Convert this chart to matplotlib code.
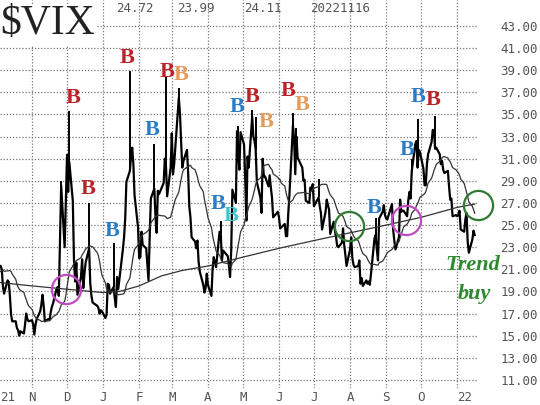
import matplotlib
matplotlib.use("Agg")
import matplotlib.pyplot as plt
import pandas as pd

# exchange holidays inside the chart window
holidays = ["2021-11-25", "2021-12-24", "2022-01-17", "2022-02-21", "2022-04-15",
            "2022-05-30", "2022-06-20", "2022-07-04", "2022-09-05"]

# daily closes of $VIX, month by month (Oct 5 2021 .. Nov 16 2022)
warmup = [18.2, 19.1, 18.8, 20.95, 19.4, 19.5, 18.2, 18.7, 20.8, 25.7,
          24.4, 20.9, 18.6, 17.75, 18.8, 23.25, 22.6, 23.1, 21.15, 23.0]
oct21 = [21.3, 21.0, 19.5, 18.8, 20.0, 19.85, 18.6, 16.9, 16.3, 16.3, 15.7, 15.5,
         15.0, 15.4, 15.2, 16.0, 17.0, 16.5, 16.3]
nov21 = [16.4, 16.0, 15.1, 16.0, 16.5, 17.2, 17.8, 18.7, 17.7, 16.3, 16.5, 16.4,
         17.1, 17.6, 17.9, 19.2, 19.4, 18.6, 28.6, 23.0, 27.2]
dec21 = [31.1, 28.0, 30.7, 27.2, 21.9, 19.9, 21.6, 18.7, 20.3, 21.9, 19.3, 20.6,
         21.6, 22.9, 19.7, 18.6, 18.0, 17.7, 17.5, 17.0, 17.3, 17.2]
jan22 = [16.6, 16.9, 19.7, 19.6, 18.8, 19.4, 18.4, 17.6, 20.3, 19.2, 22.8, 23.9,
         25.6, 28.9, 29.9, 31.2, 32.0, 30.5, 27.7, 24.8]
feb22 = [22.0, 22.1, 24.4, 23.2, 22.9, 21.4, 20.0, 23.9, 27.4, 28.3, 25.7, 24.3,
         28.1, 27.8, 28.8, 31.0, 30.3, 27.6, 30.2]
mar22 = [33.3, 29.6, 30.5, 32.0, 36.5, 35.1, 32.5, 30.2, 30.8, 31.8, 29.8, 26.7,
         25.7, 23.9, 23.5, 22.9, 23.6, 21.7, 20.8, 19.6, 18.9, 19.3, 20.6]
apr22 = [19.6, 18.6, 21.0, 22.1, 21.6, 21.2, 24.4, 24.3, 21.8, 22.7, 22.2, 21.4,
         20.3, 22.7, 28.2, 27.0, 33.5, 31.6, 30.0, 33.4]
may22 = [32.3, 29.3, 25.4, 31.2, 30.2, 34.8, 33.0, 32.6, 31.8, 28.9, 27.5, 26.1,
         31.0, 29.4, 29.4, 28.5, 29.5, 28.4, 27.5, 25.7, 26.2]
jun22 = [25.7, 24.7, 24.8, 25.1, 24.0, 24.0, 26.1, 27.8, 34.0, 32.7, 29.6, 33.0,
         31.1, 30.2, 29.0, 29.1, 27.2, 27.0, 28.4, 28.2, 28.7]
jul22 = [26.7, 27.5, 26.7, 26.1, 24.6, 26.2, 27.3, 26.8, 26.4, 24.2, 25.3, 24.5,
         23.9, 23.1, 23.0, 23.4, 24.7, 23.2, 22.3, 21.3]
aug22 = [22.8, 23.9, 22.0, 21.4, 21.2, 21.3, 21.8, 19.7, 20.2, 19.5, 20.0, 19.7,
         19.9, 19.6, 20.6, 23.8, 24.1, 22.8, 21.8, 25.6, 26.2, 26.8, 25.9]
sep22 = [25.6, 25.5, 26.9, 24.6, 23.6, 22.8, 23.9, 27.3, 26.2, 26.3, 26.3, 25.8,
         27.2, 28.0, 27.4, 29.9, 32.3, 32.6, 30.2, 31.8, 31.6]
oct22 = [30.1, 28.6, 28.6, 30.5, 31.4, 32.5, 33.6, 33.6, 31.9, 32.0, 31.4, 30.5,
         30.8, 30.0, 29.7, 29.9, 28.5, 27.3, 27.4, 25.8, 25.9]
nov22 = [25.8, 25.9, 26.3, 24.6, 24.4, 25.5, 26.1, 23.5, 22.5, 23.7, 24.5, 24.1]

# intraday highs that stick out above the close
hi_dates = ["2021-11-26", "2021-12-01", "2021-12-03", "2021-12-20", "2022-01-10",
            "2022-01-24", "2022-02-14", "2022-02-24", "2022-03-07", "2022-04-12",
            "2022-04-27", "2022-05-09", "2022-05-12", "2022-06-13", "2022-06-16",
            "2022-07-05", "2022-08-23", "2022-09-23", "2022-09-28", "2022-10-13"]
hi_vals = [29.0, 31.4, 35.3, 27.0, 23.4, 38.9, 32.3, 38.4, 37.4, 25.4,
           34.0, 35.4, 34.8, 35.1, 33.8, 29.2, 25.6, 31.0, 34.6, 34.9]

# 200-day moving average
ma200_dates = ["2021-10-05", "2021-11-01", "2021-12-01", "2022-01-01", "2022-01-15",
               "2022-02-01", "2022-02-20", "2022-03-10", "2022-04-01", "2022-05-01",
               "2022-06-01", "2022-07-01", "2022-08-01", "2022-09-01", "2022-10-01",
               "2022-11-01", "2022-11-16"]
ma200_vals = [19.8, 19.5, 19.2, 18.9, 19.0, 19.5, 20.4, 20.9, 21.3, 22.1,
              22.9, 23.6, 24.3, 25.0, 25.7, 26.6, 26.9]

# buy signals ("B") and their colours
b_dates = ["2021-12-06", "2021-12-19", "2022-01-22", "2022-01-09", "2022-02-12",
           "2022-02-25", "2022-03-09", "2022-04-26", "2022-05-09", "2022-05-21",
           "2022-04-10", "2022-04-21", "2022-06-09", "2022-06-21", "2022-08-22",
           "2022-09-19", "2022-09-28", "2022-10-11"]
b_levels = [36.5, 28.3, 40.1, 24.5, 33.6, 38.8, 38.6, 35.7, 36.6, 34.3,
            26.9, 25.8, 37.1, 35.9, 26.5, 31.8, 36.6, 36.3]
b_colors = ["red", "red", "red", "blue", "blue", "red", "orange", "blue", "red", "orange",
            "blue", "cyan", "red", "orange", "blue", "blue", "blue", "red"]
palette = {"red": "#bb2228", "blue": "#2a7cc6", "orange": "#e49a5c", "cyan": "#3ec6cc"}

# crossover circles
circ_dates = ["2021-11-30", "2022-07-31", "2022-09-18", "2022-11-19"]
circ_levels = [19.2, 24.9, 25.5, 26.8]
circ_colors = ["#c04ac4", "#2e7a32", "#c04ac4", "#2e7a32"]

header = ["24.72", "23.99", "24.11", "20221116"]
header_x = [135, 196, 263, 340]

month_ticks = pd.date_range("2021-11-01", "2022-11-01", freq="MS")
month_labels = ["N", "D", "J", "F", "M", "A", "M", "J", "J", "A", "S", "O", "22"]

vix = oct21 + nov21 + dec21 + jan22 + feb22 + mar22 + apr22 + may22 + jun22 + \
    jul22 + aug22 + sep22 + oct22 + nov22
days = pd.bdate_range("2021-10-05", "2022-11-16", freq="C", holidays=holidays)
close = pd.Series(vix, index=days)
ma20 = pd.Series(warmup + vix).rolling(20).mean().iloc[len(warmup):]
ma20.index = days

fig = plt.figure(figsize=(5.4, 4.05), dpi=100)
ax = fig.add_axes([0, 1 - 388 / 405, 477 / 540, 388 / 405])
ax.set_xlim(pd.Timestamp("2021-10-04 12:00"), pd.Timestamp("2022-11-18"))
ax.set_ylim(10.27, 45.35)
for s in ax.spines.values():
    s.set_visible(False)

ax.set_yticks(range(11, 44, 2))
ax.set_yticklabels([f"{v:.2f}" for v in range(11, 44, 2)])
ax.yaxis.tick_right()
ax.set_xticks(month_ticks)
ax.set_xticklabels(month_labels)
ax.xaxis.get_ticklabels()[-1].set_horizontalalignment("left")
ax.tick_params(length=0, labelsize=9, labelcolor="#555555")
ax.tick_params(axis="y", pad=17)
ax.tick_params(axis="x", pad=2)
for lab in ax.get_xticklabels() + ax.get_yticklabels():
    lab.set_family("DejaVu Sans Mono")
ax.grid(True, linestyle=(0, (1, 1.5)), color="#777777", lw=0.9)
ax.text(0.0, -0.008, "21", transform=ax.transAxes, ha="left", va="top",
        fontsize=9, color="#555555", family="DejaVu Sans Mono")

ax.plot(close.index, close.values, color="black", lw=1.6, zorder=3)
hd = pd.to_datetime(hi_dates)
ax.vlines(hd, close.reindex(hd).values, hi_vals, color="black", lw=1.4, zorder=3)
ax.plot(ma20.index, ma20.values, color="#333333", lw=0.9, zorder=3)
ax.plot(pd.to_datetime(ma200_dates), ma200_vals, color="#333333", lw=0.9, zorder=3)

for d, v, c in zip(b_dates, b_levels, b_colors):
    ax.text(pd.Timestamp(d), v, "B", color=palette[c], fontsize=16, fontweight="bold",
            family="Liberation Serif", ha="center", va="center", zorder=4)

for d, v, c in zip(circ_dates, circ_levels, circ_colors):
    ax.plot([pd.Timestamp(d)], [v], marker="o", markersize=21, markerfacecolor="none",
            markeredgecolor=c, markeredgewidth=1.6, clip_on=False, zorder=5)

ax.text(pd.Timestamp("2022-11-14"), 21.4, "Trend", color="#2e8a2e", fontsize=16,
        fontweight="bold", fontstyle="italic", family="Liberation Serif",
        ha="center", va="center", zorder=6, clip_on=False)
ax.text(pd.Timestamp("2022-11-16"), 18.8, "buy", color="#2e8a2e", fontsize=16,
        fontweight="bold", fontstyle="italic", family="Liberation Serif",
        ha="center", va="center", zorder=6, clip_on=False)

fig.text(0.0, 1 - 24 / 405, "$VIX", fontsize=30, family="Liberation Serif",
         color="#222222", ha="left", va="center",
         bbox=dict(facecolor="white", edgecolor="none", pad=1))
for t, x in zip(header, header_x):
    fig.text(x / 540, 1 - 8 / 405, t, fontsize=9, family="DejaVu Sans Mono",
             color="#555555", ha="center", va="center")

fig.savefig("out.png", dpi=100)
